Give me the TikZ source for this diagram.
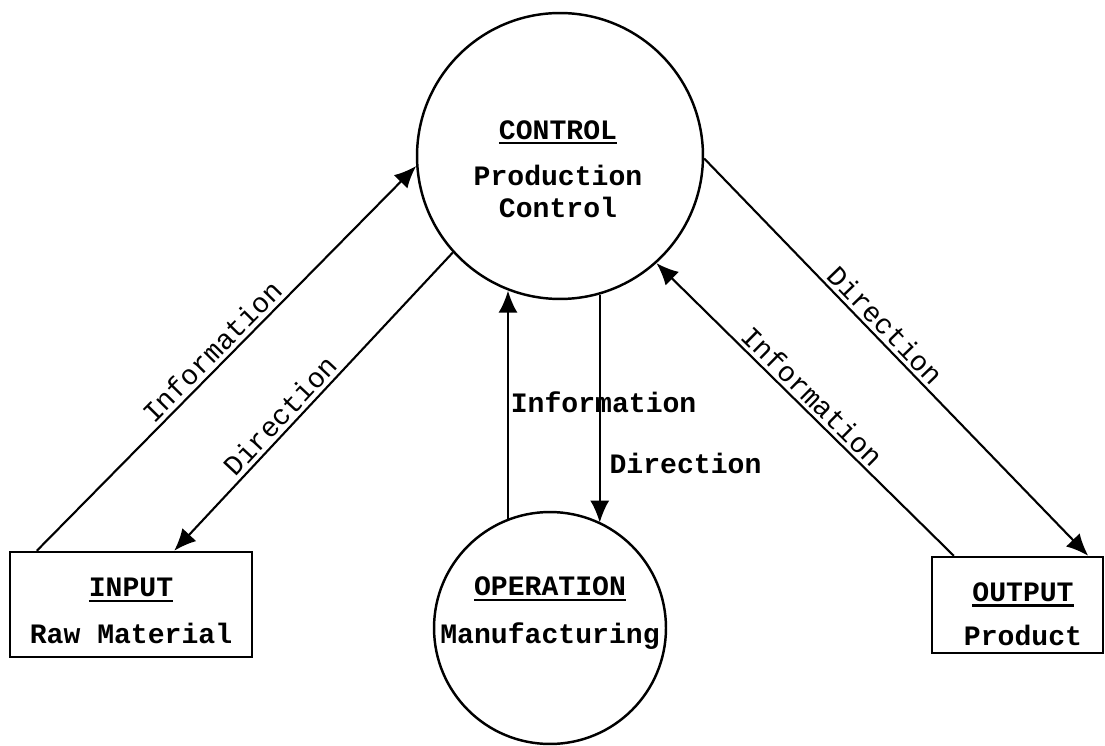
\documentclass[tikz,border=0pt]{standalone}
\usepackage{fontspec}
\setmonofont{Liberation Mono}
\usetikzlibrary{arrows.meta}
% heading with a heavy underline
\newcommand{\hdl}[1]{\setbox0\hbox{#1}\vtop{\box0\kern1.5pt\hrule height 1.4pt}}
\tikzset{
	proc/.style={circle, draw, line width=1.4pt, minimum size=#1, inner sep=0pt},
	ext/.style={rectangle, draw, line width=1.4pt, inner sep=0pt},
	txt/.style={font=\ttfamily\bfseries\fontsize{16}{18}\selectfont, align=center},
	flow/.style={line width=1.2pt, -{Latex[length=0.44cm,width=0.38cm]}},
	lab/.style={font=\ttfamily\fontsize{16}{18}\selectfont, sloped, above, inner sep=2pt},
}
\begin{document}
\begin{tikzpicture}[x=0.02cm, y=-0.02cm]
	\useasboundingbox (0,0) rectangle (1105,746);
	% blocks
	\node[proc=5.72cm] (ctl) at (560,156) {};
	\node[proc=4.64cm] (op) at (550,628) {};
	\node[ext, minimum width=4.84cm, minimum height=2.1cm] (inp) at (131,604.5) {};
	\node[ext, minimum width=3.42cm, minimum height=1.92cm] (outp) at (1017.5,605) {};
	\node[txt] (ctltxt) at (558,169) {\hdl{CONTROL}\\[8.6pt]Production\\Control};
	\node[txt] (optxt) at (550,613) {\hdl{OPERATION}\\[9pt]Manufacturing};
	\node[txt] (inptxt) at (131,611) {\hdl{INPUT}\\[8.6pt]Raw Material};
	\node[txt] (outptxt) at (1023,614) {\hdl{OUTPUT}\\[7pt]Product};
	% links
	\draw[flow] ([xshift=0.56cm]inp.north west) -- (ctl.184.8) node[lab, pos=0.49]{Information};
	\draw[flow] (ctl.222) -- ([xshift=-1.58cm]inp.north east) node[lab, pos=0.58]{Direction};
	\draw[flow] (op.111) -- (op.111 |- ctl.249) node[txt, right, pos=0.51, inner sep=1pt]{Information};
	\draw[flow] (ctl.286) -- (ctl.286 |- op.64) node[txt, right, pos=0.74, inner sep=5pt]{Direction};
	\draw[flow] ([xshift=0.46cm]outp.north west) -- (ctl.312) node[lab, pos=0.51]{Information};
	\draw[flow] (ctl.359) -- ([xshift=-0.32cm]outp.north east) node[lab, pos=0.445]{Direction};
\end{tikzpicture}
\end{document}
